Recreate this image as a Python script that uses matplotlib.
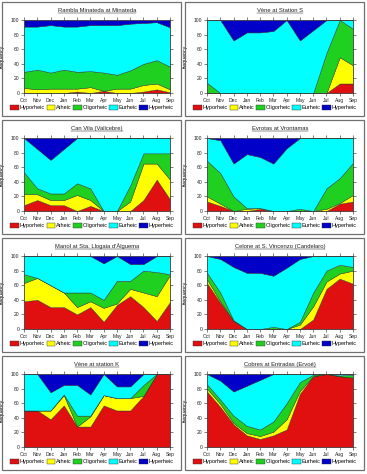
import matplotlib
matplotlib.use("Agg")
import matplotlib.pyplot as plt
from matplotlib.patches import Rectangle, Patch
from matplotlib.lines import Line2D

plt.rcParams['font.family'] = ['Liberation Sans', 'DejaVu Sans']

months = ["Oct", "Nov", "Dec", "Jan", "Feb", "Mar", "Apr", "May", "Jun", "Jul", "Aug", "Sep"]
series_names = ["Hyporheic", "Arheic", "Oligorheic", "Eurheic", "Hyperheic"]
colors = ["#e01010", "#ffff00", "#20d020", "#00ffff", "#0000c8"]

titles = [
    "Rambla Minateda at Minateda",
    "Vène at Station S",
    "Can Vila (Vallcebre)",
    "Evrotas at Vrontamas",
    "Manol at Sta. Llogaia d'Àlguema",
    "Celone at S. Vincenzo (Candelaro)",
    "Vène at station K",
    "Cobres at Entradas (Ervoé)",
]

# Panel 1
p1_hyporheic = [0, 0, 0, 0, 2, 0, 3, 0, 0, 2, 5, 1]
p1_arheic = [7, 5, 6, 6, 4, 8, 0, 6, 6, 9, 8, 4]
p1_oligorheic = [22, 27, 22, 26, 23, 22, 25, 19, 25, 29, 32, 31]
p1_eurheic = [62, 59, 65, 59, 62, 63, 65, 68, 64, 56, 52, 54]
p1_hyperheic = [9, 9, 7, 9, 9, 7, 7, 7, 5, 4, 3, 10]
# Panel 2
p2_hyporheic = [0, 0, 0, 0, 0, 0, 0, 0, 0, 0, 13, 13]
p2_arheic = [0, 0, 0, 0, 0, 0, 0, 0, 0, 0, 36, 25]
p2_oligorheic = [14, 0, 0, 0, 0, 0, 0, 0, 0, 55, 51, 50]
p2_eurheic = [86, 100, 72, 83, 83, 85, 100, 72, 86, 45, 0, 12]
p2_hyperheic = [0, 0, 28, 17, 17, 15, 0, 28, 14, 0, 0, 0]
# Panel 3
p3_hyporheic = [8, 15, 8, 8, 0, 7, 0, 0, 0, 15, 43, 16]
p3_arheic = [15, 8, 7, 7, 22, 8, 0, 0, 13, 50, 22, 27]
p3_oligorheic = [30, 8, 9, 9, 16, 16, 0, 0, 22, 14, 14, 36]
p3_eurheic = [47, 54, 46, 61, 62, 69, 100, 100, 65, 21, 21, 21]
p3_hyperheic = [0, 15, 30, 15, 0, 0, 0, 0, 0, 0, 0, 0]
# Panel 4
p4_hyporheic = [13, 7, 0, 0, 3, 0, 0, 0, 0, 0, 10, 13]
p4_arheic = [7, 3, 0, 3, 1, 0, 0, 0, 0, 3, 1, 9]
p4_oligorheic = [49, 42, 20, 1, 0, 0, 0, 3, 0, 28, 34, 44]
p4_eurheic = [31, 45, 45, 74, 70, 65, 86, 97, 100, 69, 55, 34]
p4_hyperheic = [0, 3, 35, 22, 26, 35, 14, 0, 0, 0, 0, 0]
# Panel 5
p5_hyporheic = [38, 40, 30, 30, 20, 30, 10, 33, 45, 30, 11, 37]
p5_arheic = [25, 30, 30, 20, 10, 8, 19, 2, 10, 20, 34, 37]
p5_oligorheic = [12, 0, 0, 0, 20, 12, 11, 31, 11, 30, 33, 1]
p5_eurheic = [25, 30, 40, 50, 50, 50, 50, 34, 23, 9, 22, 25]
p5_hyperheic = [0, 0, 0, 0, 0, 0, 10, 0, 11, 11, 0, 0]
# Panel 6
p6_hyporheic = [63, 36, 11, 0, 0, 0, 0, 0, 13, 55, 69, 62]
p6_arheic = [5, 2, 0, 0, 0, 0, 0, 6, 18, 10, 7, 18]
p6_oligorheic = [9, 12, 1, 0, 0, 3, 0, 4, 19, 15, 12, 5]
p6_eurheic = [23, 46, 73, 77, 77, 70, 84, 86, 50, 20, 12, 15]
p6_hyperheic = [0, 4, 15, 23, 23, 27, 16, 4, 0, 0, 0, 0]
# Panel 7
p7_hyporheic = [50, 50, 38, 57, 28, 28, 57, 50, 50, 70, 100, 100]
p7_arheic = [0, 0, 12, 14, 0, 14, 14, 17, 17, 0, 0, 0]
p7_oligorheic = [0, 0, 0, 1, 15, 1, 0, 0, 0, 15, 0, 0]
p7_eurheic = [50, 50, 25, 13, 42, 29, 29, 16, 16, 15, 0, 0]
p7_hyperheic = [0, 0, 25, 15, 15, 28, 0, 17, 17, 0, 0, 0]
# Panel 8
p8_hyporheic = [76, 55, 31, 16, 11, 16, 24, 73, 97, 100, 97, 95]
p8_arheic = [4, 4, 2, 3, 4, 5, 14, 4, 0, 0, 0, 0]
p8_oligorheic = [6, 6, 10, 10, 9, 14, 22, 12, 2, 0, 1, 4]
p8_eurheic = [14, 26, 33, 55, 68, 65, 40, 11, 1, 0, 2, 1]
p8_hyperheic = [0, 9, 24, 16, 8, 0, 0, 0, 0, 0, 0, 0]

panels = [
    [p1_hyporheic, p1_arheic, p1_oligorheic, p1_eurheic, p1_hyperheic],
    [p2_hyporheic, p2_arheic, p2_oligorheic, p2_eurheic, p2_hyperheic],
    [p3_hyporheic, p3_arheic, p3_oligorheic, p3_eurheic, p3_hyperheic],
    [p4_hyporheic, p4_arheic, p4_oligorheic, p4_eurheic, p4_hyperheic],
    [p5_hyporheic, p5_arheic, p5_oligorheic, p5_eurheic, p5_hyperheic],
    [p6_hyporheic, p6_arheic, p6_oligorheic, p6_eurheic, p6_hyperheic],
    [p7_hyporheic, p7_arheic, p7_oligorheic, p7_eurheic, p7_hyperheic],
    [p8_hyporheic, p8_arheic, p8_oligorheic, p8_eurheic, p8_hyperheic],
]

W, H = 367, 474
fig = plt.figure(figsize=(W / 100, H / 100), dpi=100)
fig.patch.set_facecolor("white")

x = list(range(len(months)))

for i, (title, data) in enumerate(zip(titles, panels)):
    r, c = divmod(i, 2)
    # panel frame
    fx0 = 2 + c * 183
    fy0 = 2 + r * 118
    fig.patches.append(Rectangle((fx0 / W, 1 - (fy0 + 114) / H), 179 / W, 114 / H,
                                 transform=fig.transFigure, fill=False,
                                 edgecolor="#707070", linewidth=0.9))
    ax_l = 24 + c * 183
    ax_top = 20 + r * 118
    ax = fig.add_axes([ax_l / W, 1 - (ax_top + 73) / H, 146 / W, 73 / H])
    ax.stackplot(x, *data, colors=colors, edgecolor="#303030", linewidth=0.3)
    ax.set_xlim(0, len(months) - 1)
    ax.set_ylim(0, 100)
    ax.set_xticks(x)
    ax.set_xticklabels(months)
    ax.set_yticks([0, 20, 40, 60, 80, 100])
    ax.tick_params(axis="both", which="both", direction="out", length=2, width=0.4,
                   labelsize=3.6, pad=1.5, top=True, right=True, colors="#202020")
    for s in ax.spines.values():
        s.set_linewidth(0.5)
        s.set_color("#404040")
    ax.set_ylabel("frequency", fontsize=3.8, labelpad=4)
    t = ax.text(0.5, 1.1, title, transform=ax.transAxes, ha="center", va="bottom",
                fontsize=4.2, color="#202020")
    fig.canvas.draw()
    bb = t.get_window_extent().transformed(ax.transAxes.inverted())
    ax.add_line(Line2D([bb.x0, bb.x1], [bb.y0 - 0.005, bb.y0 - 0.005], transform=ax.transAxes,
                       color="#202020", linewidth=0.35, clip_on=False))
    handles = [Patch(facecolor=col, edgecolor="#303030", linewidth=0.3) for col in colors]
    ax.legend(handles, series_names, loc="upper center", bbox_to_anchor=(0.466, -0.17),
              ncol=5, fontsize=4.0, frameon=False, handlelength=1.5, handleheight=0.8,
              handletextpad=0.2, columnspacing=0.3, borderpad=0, borderaxespad=0)

fig.savefig("out.png", dpi=100)
